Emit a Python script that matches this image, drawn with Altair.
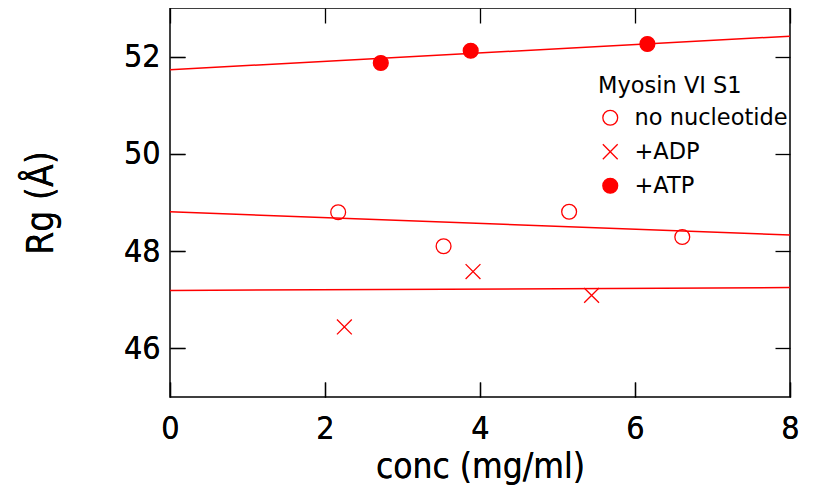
import altair as alt
import pandas as pd

# ---- data ----
series_names = ["no nucleotide", "+ADP", "+ATP"]

conc_none = [2.17, 3.53, 5.15, 6.61]
rg_none = [48.80, 48.10, 48.81, 48.29]

conc_adp = [2.25, 3.91, 5.44]
rg_adp = [46.44, 47.58, 47.09]

conc_atp = [2.72, 3.88, 6.16]
rg_atp = [51.87, 52.12, 52.26]

fit_conc = [0, 8]
fit_none = [48.81, 48.33]
fit_adp = [47.19, 47.25]
fit_atp = [51.73, 52.42]

x_ticks = [0, 2, 4, 6, 8]
y_ticks = [46, 48, 50, 52]

# ---- tables ----
pts = pd.concat([
    pd.DataFrame({"conc": conc_none, "rg": rg_none, "series": series_names[0]}),
    pd.DataFrame({"conc": conc_adp, "rg": rg_adp, "series": series_names[1]}),
    pd.DataFrame({"conc": conc_atp, "rg": rg_atp, "series": series_names[2]}),
], ignore_index=True)

fits = pd.concat([
    pd.DataFrame({"conc": fit_conc, "rg": fit_none, "series": series_names[0]}),
    pd.DataFrame({"conc": fit_conc, "rg": fit_adp, "series": series_names[1]}),
    pd.DataFrame({"conc": fit_conc, "rg": fit_atp, "series": series_names[2]}),
], ignore_index=True)

FONT = "DejaVu Sans Condensed, DejaVu Sans"
LEG_FONT = "DejaVu Sans"
RED = "#ff0000"

xs = alt.Scale(domain=[0, 8], nice=False, zero=False)
ys = alt.Scale(domain=[45, 53], nice=False, zero=False)

common_axis = dict(
    offset=-15, tickSize=15, domain=False, grid=False,
    tickColor="black", tickWidth=1.3, labelFlush=False,
    labelFont=FONT, titleFont=FONT, labelColor="black", titleColor="black",
    titleFontWeight="normal",
)

x_axis = alt.Axis(values=x_ticks, title="conc (mg/ml)", orient="bottom",
                  labelFontSize=32, titleFontSize=35, labelPadding=16,
                  titlePadding=5, **common_axis)
y_axis = alt.Axis(values=y_ticks, title="Rg (Å)", orient="left",
                  labelFontSize=32, titleFontSize=37, labelPadding=10,
                  titlePadding=63, **common_axis)

x_axis_top = alt.Axis(values=x_ticks, title=None, orient="top", labels=False,
                      **common_axis)
y_axis_right = alt.Axis(values=y_ticks, title=None, orient="right", labels=False,
                        **common_axis)

lines = alt.Chart(fits).mark_line(color=RED, strokeWidth=1.5).encode(
    x=alt.X("conc:Q", scale=xs, axis=x_axis),
    y=alt.Y("rg:Q", scale=ys, axis=y_axis),
    detail="series:N",
)

cross_path = "M-1,-1L1,1M-1,1L1,-1"
leg = alt.Legend(title="Myosin VI S1")

points = alt.Chart(pts).mark_point(
    size=220, strokeWidth=1.3, opacity=1, filled=False
).encode(
    x=alt.X("conc:Q", scale=xs, axis=x_axis),
    y=alt.Y("rg:Q", scale=ys, axis=y_axis),
    shape=alt.Shape("series:N",
                    scale=alt.Scale(domain=series_names,
                                    range=["circle", cross_path, "circle"]),
                    legend=leg),
    fill=alt.Fill("series:N",
                  scale=alt.Scale(domain=series_names,
                                  range=["transparent", "transparent", RED]),
                  legend=leg),
    stroke=alt.Stroke("series:N",
                      scale=alt.Scale(domain=series_names,
                                      range=[RED, RED, RED]),
                      legend=leg),
)

mirror = alt.Chart(pts).mark_point(opacity=0).encode(
    x=alt.X("conc:Q", scale=xs, axis=x_axis_top),
    y=alt.Y("rg:Q", scale=ys, axis=y_axis_right),
)

chart = alt.layer(lines, points, mirror).resolve_axis(
    x="independent", y="independent"
).properties(
    width=620, height=389,
    autosize=alt.AutoSizeParams(type="none"),
    padding={"left": 162, "top": 0, "right": 18, "bottom": 90},
).configure_view(
    stroke="black", strokeWidth=1.5
).configure_legend(
    orient="none", legendX=428, legendY=67, padding=0,
    titleFont=LEG_FONT, titleFontSize=22.5, titleFontWeight="normal", titleColor="black",
    labelFont=LEG_FONT, labelFontSize=22.5, labelColor="black",
    symbolSize=220, symbolStrokeWidth=1.3,
    rowPadding=11, titlePadding=9, labelOffset=13, symbolOffset=1,
)

chart.save("out.html", embed_options={"renderer": "svg", "actions": False})
